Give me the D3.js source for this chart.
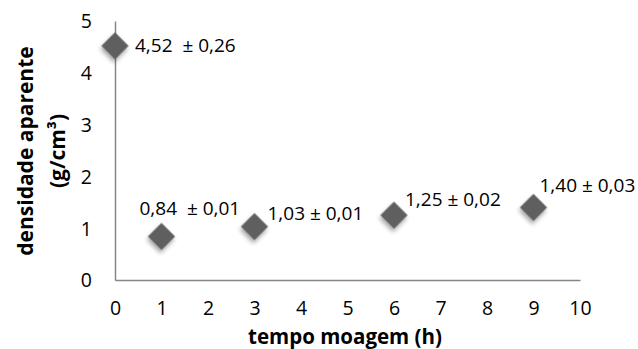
<!DOCTYPE html>
<html><head><meta charset="utf-8">
<script src="https://cdn.jsdelivr.net/npm/d3@7"></script>
<style>body{margin:0;background:#fff}svg{display:block}</style>
</head><body>
<script>
const tempo = [0, 1, 3, 6, 9];
const densidade = [4.52, 0.84, 1.03, 1.25, 1.40];
const rotulos = ["4,52  \u00B1 0,26", "0,84  \u00B1 0,01", "1,03 \u00B1 0,01", "1,25 \u00B1 0,02", "1,40 \u00B1 0,03"];
const xTicks = [0,1,2,3,4,5,6,7,8,9,10];
const yTicks = [0,1,2,3,4,5];

const W = 638, H = 349;
const svg = d3.select("body").append("svg").attr("width", W).attr("height", H);
const font = "'Open Sans', sans-serif";

const defs = svg.append("defs");
const f = defs.append("filter").attr("id","sh").attr("x","-50%").attr("y","-50%").attr("width","200%").attr("height","200%");
f.append("feDropShadow").attr("dx",1.5).attr("dy",3).attr("stdDeviation",2).attr("flood-color","#000").attr("flood-opacity",0.35);

const x = d3.scaleLinear().domain([0,10]).range([115,580]);
const y = d3.scaleLinear().domain([0,5]).range([280,21]);

const axisColor = "#868686";
const gx = svg.append("g").attr("transform","translate(0,280)")
  .call(d3.axisBottom(x).tickValues(xTicks).tickSize(0).tickPadding(21.5).tickFormat(d3.format("d")));
const gy = svg.append("g").attr("transform","translate(115,0)")
  .call(d3.axisLeft(y).tickValues(yTicks).tickSize(0).tickPadding(23).tickFormat(d3.format("d")));
[gx, gy].forEach(g => {
  g.select(".domain").attr("stroke", axisColor).attr("stroke-width", 1.5);
  g.selectAll("text").attr("font-family", font).attr("font-size", 19.5).attr("fill", "#000");
});
gy.selectAll("text").attr("dy","0.35em");

// axis titles
svg.append("text").attr("x", 345).attr("y", 343.5)
  .attr("text-anchor","middle").attr("font-family", font).attr("font-weight","bold")
  .attr("font-size", 20.5).text("tempo moagem (h)");
const yt = svg.append("text").attr("transform","translate(0,151) rotate(-90)")
  .attr("text-anchor","middle").attr("font-family", font).attr("font-weight","bold").attr("font-size", 21);
yt.append("tspan").attr("x",0).attr("y",33).text("densidade aparente");
yt.append("tspan").attr("x",0).attr("y",65).text("(g/cm\u00B3)");

// markers
const diamond = d3.symbol().type(d3.symbolSquare).size(370);
svg.append("g").selectAll("path").data(tempo).join("path")
  .attr("d", diamond)
  .attr("transform", (d,i) => `translate(${x(d)},${y(densidade[i])}) rotate(45)`)
  .attr("fill", "#5f5f5f").attr("filter","url(#sh)");

// labels
const off = [[20,-1],[-22,-28],[13,-13],[11,-16],[6,-22]];
svg.append("g").selectAll("text").data(tempo).join("text")
  .attr("x", (d,i) => x(d) + off[i][0])
  .attr("y", (d,i) => y(densidade[i]) + off[i][1])
  .attr("dy","0.35em")
  .attr("font-family", font).attr("font-size", 19).attr("fill","#000")
  .style("white-space","pre")
  .text((d,i) => rotulos[i]);
</script>
</body></html>
